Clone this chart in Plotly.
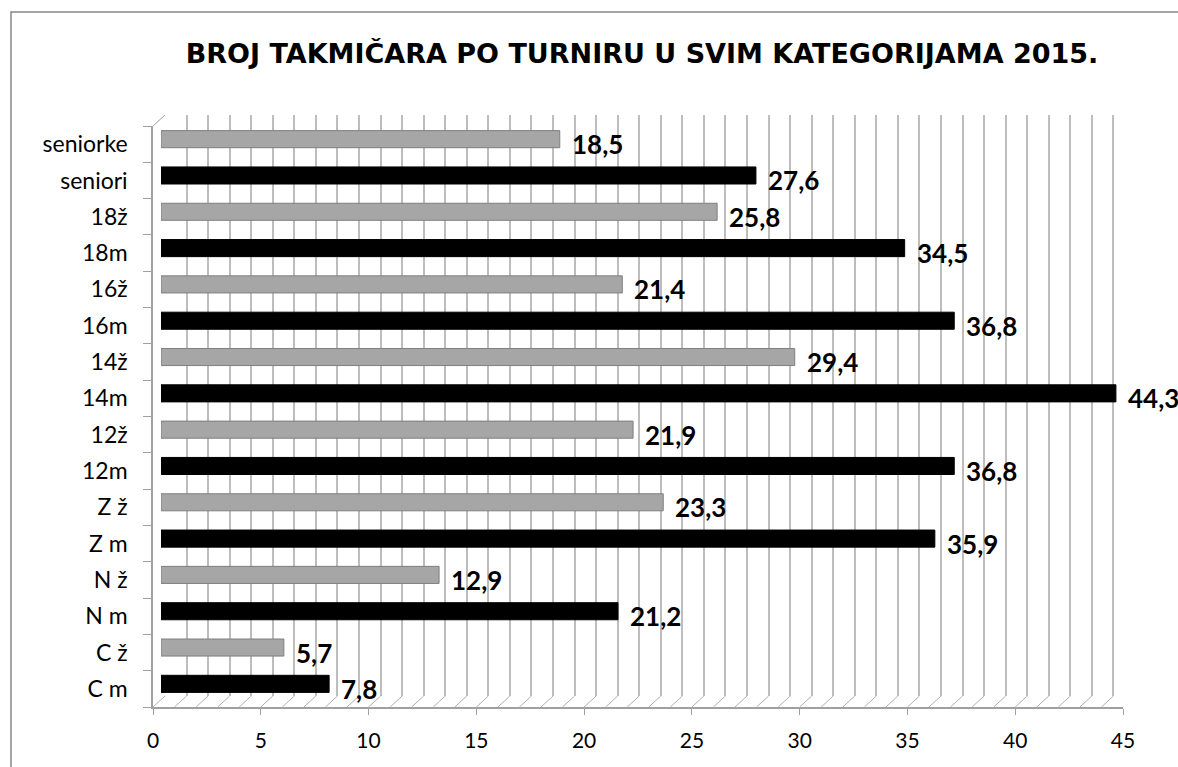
import plotly.graph_objects as go

categories = ["C m", "C ž", "N m", "N ž", "Z m", "Z ž", "12m", "12ž", "14m", "14ž",
              "16m", "16ž", "18m", "18ž", "seniori", "seniorke"]
values = [7.8, 5.7, 21.2, 12.9, 35.9, 23.3, 36.8, 21.9, 44.3, 29.4,
          36.8, 21.4, 34.5, 25.8, 27.6, 18.5]
bar_colors = ["#000000", "#a6a6a6"] * 8
bar_edge_colors = ["#000000", "#7f7f7f"] * 8
x_ticks = [0, 5, 10, 15, 20, 25, 30, 35, 40, 45]
title = "BROJ TAKMIČARA PO TURNIRU U SVIM KATEGORIJAMA 2015."

W, H = 1178, 767
FONT = "Lato"


def px_x(p):
    return p / W


def px_y(p):
    return 1 - p / H


# front plane (axes), back wall (grid) and middle plane (bars)
fx0, fx1, fy_top, fy_bot = 153, 1123, 126, 707
dx_back, dy_back = 12, -11
dx_bar, dy_bar = 8, -5
unit = (fx1 - fx0) / 45.0

fig = go.Figure()

# bars in mid-depth plane
fig.add_trace(go.Bar(
    y=categories, x=values, orientation="h",
    marker=dict(color=bar_colors, line=dict(color=bar_edge_colors, width=1)),
    width=0.47, xaxis="x3", yaxis="y3", hoverinfo="x+y", showlegend=False,
))

# invisible trace to activate front axes
fig.add_trace(go.Scatter(x=[0, 45], y=[categories[0], categories[-1]], mode="markers",
                         marker=dict(opacity=0), showlegend=False, hoverinfo="skip"))
# invisible trace for back wall grid
fig.add_trace(go.Scatter(x=[0, 45], y=[0, 1], mode="markers", xaxis="x2", yaxis="y2",
                         marker=dict(opacity=0), showlegend=False, hoverinfo="skip"))

# data labels
for c, v in zip(categories, values):
    fig.add_annotation(x=v, y=c, xref="x", yref="y", text=f"{v:.1f}".replace(".", ","),
                       showarrow=False, xanchor="left", yanchor="middle", xshift=18,
                       font=dict(family=FONT, size=26, color="#000000", weight="bold"))

shapes = []
# floor diagonals from front axis to back wall
for i in range(0, 46):
    shapes.append(dict(type="line", xref="x", yref="paper",
                       x0=i, y0=px_y(fy_bot), x1=i + dx_back / unit, y1=px_y(fy_bot + dy_back),
                       line=dict(color="#b0b0b0", width=1)))
# top-left corner diagonal
shapes.append(dict(type="line", xref="paper", yref="paper",
                   x0=px_x(fx0), y0=px_y(fy_top), x1=px_x(fx0 + dx_back), y1=px_y(fy_top + dy_back),
                   line=dict(color="#a0a0a0", width=1)))
# outer border
shapes.append(dict(type="rect", xref="paper", yref="paper",
                   x0=px_x(11), y0=-0.05, x1=1.05, y1=px_y(12),
                   line=dict(color="#868686", width=1.5), fillcolor="rgba(0,0,0,0)", layer="below"))

fig.update_layout(
    width=W, height=H, autosize=False,
    margin=dict(l=0, r=0, t=0, b=0, autoexpand=False),
    paper_bgcolor="#ffffff", plot_bgcolor="rgba(0,0,0,0)",
    title=dict(text=title, x=px_x(642), xanchor="center", y=px_y(54), yanchor="middle",
               font=dict(family="DejaVu Sans", size=27, color="#000000", weight="bold")),
    shapes=shapes,
    xaxis=dict(domain=[px_x(fx0), px_x(fx1)], range=[0, 45], tickvals=x_ticks, automargin=False,
               showgrid=False, zeroline=False, showline=True, linecolor="#a0a0a0", linewidth=1.5,
               ticks="outside", ticklen=6, tickcolor="#a0a0a0", ticklabelstandoff=8,
               tickfont=dict(family=FONT, size=21, color="#000000"), anchor="y"),
    yaxis=dict(domain=[px_y(fy_bot), px_y(fy_top)], type="category", categoryorder="array",
               categoryarray=categories, range=[-0.5, 15.5], showgrid=False, zeroline=False,
               showline=True, linecolor="#a0a0a0", linewidth=1.5, ticks="outside", ticklen=8,
               tickcolor="#a0a0a0", tickson="boundaries", ticklabelstandoff=19, automargin=False,
               tickfont=dict(family=FONT, size=23, color="#000000"), anchor="x"),
    xaxis2=dict(domain=[px_x(fx0 + dx_back), px_x(fx1 + dx_back)], range=[0, 45], dtick=1, tick0=0,
                showgrid=True, gridcolor="#bdbdbd", gridwidth=2, showticklabels=False,
                zeroline=False, showline=False, anchor="y2", automargin=False),
    yaxis2=dict(domain=[px_y(fy_bot + dy_back), px_y(fy_top + dy_back)], range=[0, 1],
                showgrid=False, showticklabels=False, zeroline=False, anchor="x2", automargin=False),
    xaxis3=dict(domain=[px_x(fx0 + dx_bar), px_x(fx1 + dx_bar)], range=[0, 45], visible=False,
                anchor="y3"),
    yaxis3=dict(domain=[px_y(fy_bot + dy_bar), px_y(fy_top + dy_bar)], type="category",
                categoryorder="array", categoryarray=categories, range=[-0.5, 15.5],
                visible=False, anchor="x3"),
)

fig.write_html(
    "out.html",
    config={"displayModeBar": False, "responsive": False},
    post_script=("document.body.style.margin='0';document.body.style.overflow='hidden';"
                 "Plotly.relayout(document.getElementById('{plot_id}'), {width: 1178, height: 767});"),
)
